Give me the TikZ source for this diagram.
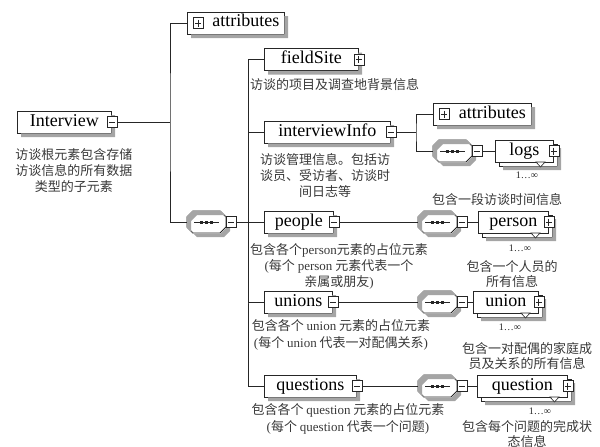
\documentclass[tikz,border=0pt]{standalone}
\usepackage{fontspec}
\setmainfont{Liberation Serif}
\newfontfamily\cjk{Noto Sans CJK SC}
\newcommand\lt[1]{{\rmfamily #1}}
\definecolor{shadowgray}{RGB}{165,165,165}
\tikzset{
  ln/.style={line width=0.9pt, draw=black!85},
  shadowfill/.style={fill=shadowgray, draw=none},
  elembox/.style={draw=black!85, line width=0.9pt, fill=white, minimum height=22pt, inner sep=0pt, anchor=west,
     font=\fontsize{18}{18}\selectfont, text height=12pt, text depth=4pt},
  icon/.style={draw=black!85, line width=0.8pt, fill=white, minimum width=10pt, minimum height=11pt, inner sep=0pt},
  minusicon/.style={icon, path picture={\draw[line width=0.9pt] ([xshift=2pt]path picture bounding box.west) -- ([xshift=-2pt]path picture bounding box.east);}},
  plusicon/.style={icon, path picture={\draw[line width=0.9pt] ([xshift=2pt]path picture bounding box.west) -- ([xshift=-2pt]path picture bounding box.east);
     \draw[line width=0.9pt] ([yshift=-2pt]path picture bounding box.north) -- ([yshift=2pt]path picture bounding box.south);}},
  desc/.style={font=\cjk\fontsize{13}{16}\selectfont, text=black!78, align=center, inner sep=0pt},
  occ/.style={font=\fontsize{10}{10}\selectfont, text=black!85, inner sep=0pt},
}
% element box with shadow drawn after the box: name, left x, centre y, width, text
\newcommand\elem[5]{%
  \node[elembox, minimum width=#4] (#1) at (#2,#3) {#5};
  \path[shadowfill] (#2+#4+0.45,#3-7) -- (#2+#4+4,#3-7) -- (#2+#4+4,#3+15) -- (#2+4,#3+15)
     -- (#2+4,#3+11.45) -- (#2+#4+0.45,#3+11.45) -- cycle;}
% compositor: name, left x, centre y
\newcommand\compo[3]{%
 \begin{scope}[shift={(#2,#3)}]
  \filldraw[ln, fill=white] (6,-11) -- (33,-11) -- (39,-5) -- (39,5) -- (33,11) -- (6,11) -- (0,5) -- (0,-5) -- cycle;
  \path[shadowfill, even odd rule]
     (10,-7) -- (37,-7) -- (43,-1) -- (43,9) -- (37,15) -- (10,15) -- (4,9) -- (4,-1) -- cycle
     (5.5,-11.5) -- (33.5,-11.5) -- (39.5,-5.5) -- (39.5,5.5) -- (33.5,11.5) -- (5.5,11.5) -- (-0.5,5.5) -- (-0.5,-5.5) -- cycle;
  \draw[line width=0.9pt, black!85] (7,0) -- (32,0);
  \foreach \d in {-5,0,5} \fill[black!85] (18+\d,-1.5) rectangle ++(3,3);
  \node[minimum width=39pt, minimum height=22pt, inner sep=0pt] (#1) at (19.5,0) {};
  \node[minusicon, anchor=west] (#1m) at (39,0) {};
 \end{scope}}
% repeated element: name, left x, centre y, width, text
\newcommand\multi[5]{%
 \begin{scope}[shift={(#2,#3)}]
  \filldraw[ln, fill=white] (4,-7) rectangle (4+#4,15);
  \path[shadowfill] (4+#4+0.45,-3) -- (8+#4,-3) -- (8+#4,19) -- (8,19) -- (8,15.45) -- (4+#4+0.45,15.45) -- cycle;
  \node[elembox, minimum width=#4] (#1) at (0,0) {#5};
  \filldraw[line width=0.6pt, draw=black!85, fill=white] (#4-17,11) -- (#4-8,11) -- (#4-12.5,16) -- cycle;
  \node[plusicon] (#1p) at (#1.east) {};
 \end{scope}}
\begin{document}
\begin{tikzpicture}[x=1pt,y=-1pt]
\path[use as bounding box] (0,0) rectangle (600,447);

% root
\elem{interview}{17}{122}{94}{Interview\hspace{8pt}}
\node[minusicon] (interviewm) at (interview.east) {};
\node[desc] (interviewd) at (74,171) {访谈根元素包含存储\\访谈信息的所有数据\\类型的子元素};

% attributes of root
\elem{attr}{187}{23}{97}{\hspace{20pt}attributes}
\node[plusicon] (attrp) at (198,23) {};

% first sequence
\compo{seq1}{187}{222}
\coordinate (j1) at (170,122);
\draw[ln] (interviewm.east) -- (j1);
\draw[ln] (attr.west) -| (j1) |- (seq1.west);

% children
\elem{fieldsite}{264}{59.5}{94}{fieldSite}
\node[plusicon] (fieldsitep) at (fieldsite.east) {};
\node[desc, anchor=west] (fieldsited) at (250,85) {访谈的项目及调查地背景信息};

\elem{info}{264}{132}{126}{interviewInfo\hspace{8pt}}
\node[minusicon] (infom) at (info.east) {};
\node[desc] (infod) at (325,175) {访谈管理信息。包括访\\谈员、受访者、访谈时\\间日志等};

\elem{people}{264}{222}{69}{people}
\node[minusicon] (peoplem) at (people.east) {};
\node[desc] (peopled) at (339,266) {包含各个\lt{person}元素的占位元素\\\lt{(}每个 \lt{person} 元素代表一个\\亲属或朋友\lt{)}};

\elem{unions}{264}{302}{68}{unions}
\node[minusicon] (unionsm) at (unions.east) {};
\node[desc, font=\cjk\fontsize{13}{17}\selectfont] (unionsd) at (341,335) {包含各个 \lt{union} 元素的占位元素\\\lt{(}每个 \lt{union} 代表一对配偶关系\lt{)}};

\elem{questions}{264}{386}{92}{questions}
\node[minusicon] (questionsm) at (questions.east) {};
\node[desc, font=\cjk\fontsize{13}{17}\selectfont] (questionsd) at (348,419) {包含各个 \lt{question} 元素的占位元素\\\lt{(}每个 \lt{question} 代表一个问题\lt{)}};

% bus of first sequence
\coordinate (j2) at (248,222);
\draw[ln] (seq1m.east) -- (people.west);
\draw[ln] (fieldsite.west) -| (j2) |- (questions.west);
\draw[ln] (info.west) -| (j2);
\draw[ln] (unions.west) -| (j2);

% interviewInfo content
\elem{attr2}{433}{114}{98}{\hspace{20pt}attributes}
\node[plusicon] (attr2p) at (444,114) {};
\compo{seq2}{433}{151}
\coordinate (j3) at (416,132);
\draw[ln] (infom.east) -- (j3);
\draw[ln] (attr2.west) -| (j3) |- (seq2.west);
\multi{logs}{495}{151}{58}{logs\hspace{4pt}}
\draw[ln] (seq2m.east) -- (logs.west);
\node[occ] (logso) at (527,175) {1…∞};
\node[desc, font=\cjk\fontsize{13}{15}\selectfont] (logsd) at (497,200) {包含一段访谈时间信息};

% people content
\compo{seq3}{418}{222}
\draw[ln] (peoplem.east) -- (seq3.west);
\multi{person}{478}{222}{70}{person\hspace{5pt}}
\draw[ln] (seq3m.east) -- (person.west);
\node[occ] (persono) at (520,248) {1…∞};
\node[desc, font=\cjk\fontsize{13}{15}\selectfont] (persond) at (512,274) {包含一个人员的\\所有信息};

% unions content
\compo{seq4}{418}{302}
\draw[ln] (unionsm.east) -- (seq4.west);
\multi{union}{473}{302}{65}{union\hspace{6pt}}
\draw[ln] (seq4m.east) -- (union.west);
\node[occ] (uniono) at (510,327) {1…∞};
\node[desc, font=\cjk\fontsize{13}{15}\selectfont] (uniond) at (527,356) {包含一对配偶的家庭成\\员及关系的所有信息};

% questions content
\compo{seq5}{418}{386}
\draw[ln] (questionsm.east) -- (seq5.west);
\multi{question}{477}{386}{90}{question\hspace{10pt}}
\draw[ln] (seq5m.east) -- (question.west);
\node[occ] (questiono) at (540,411) {1…∞};
\node[desc, font=\cjk\fontsize{13}{15}\selectfont] (questiond) at (527,434) {包含每个问题的完成状\\态信息};
\end{tikzpicture}
\end{document}
